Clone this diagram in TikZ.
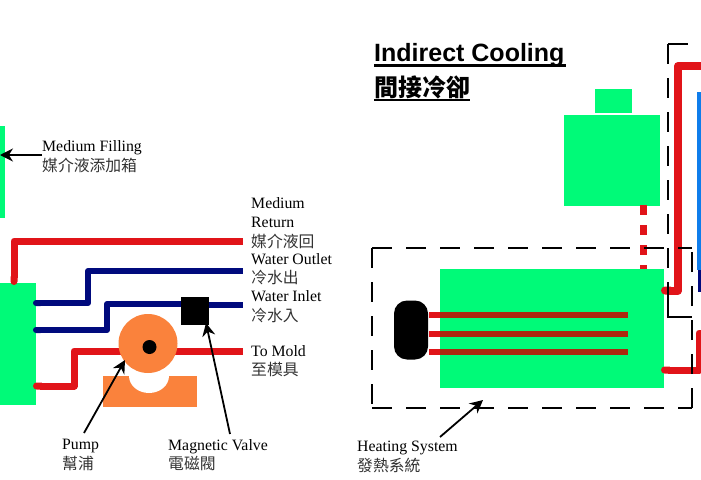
\documentclass[tikz,border=0pt]{standalone}
\usepackage{fontspec}
\setmainfont{Liberation Serif}
\setsansfont{Liberation Sans}
\newfontfamily\cjk{Noto Sans CJK TC}
\usetikzlibrary{positioning,arrows.meta}
\definecolor{tankgreen}{RGB}{0,250,120}
\definecolor{pipered}{RGB}{225,20,25}
\definecolor{pipeblue}{RGB}{0,10,125}
\definecolor{pumporange}{RGB}{250,130,60}
\definecolor{rodbrown}{RGB}{170,40,15}
\definecolor{moldblue}{RGB}{15,125,235}
\newcommand{\cn}[1]{{\cjk\color{black!80}#1}}
\tikzset{
  tank/.style={fill=tankgreen, draw=none, inner sep=0pt},
  redpipe/.style={draw=pipered, line width=7pt, line join=round, {Round Cap[]}-},
  bluepipe/.style={draw=pipeblue, line width=6pt, line join=round, {Round Cap[]}-},
  rod/.style={draw=rodbrown, line width=5.5pt},
  lbl/.style={inner sep=0pt, align=left, anchor=north west, font=\fontsize{15.8}{19.5}\selectfont},
  pointer/.style={draw=black, line width=1.8pt, -{Stealth[length=13pt,width=13pt]}},
  boxline/.style={draw=black, line width=1.2pt, dash pattern=on 20pt off 14pt}
}
\begin{document}
\begin{tikzpicture}[x=1pt,y=-1pt]
\useasboundingbox (0,0) rectangle (701,479);
% left part
\node[tank, minimum width=5pt, minimum height=92pt, anchor=north west](fill) at (0,126) {};
\node[tank, minimum width=36pt, minimum height=122pt, anchor=north west](res) at (0,283) {};
\coordinate (retA) at (14,285);
\coordinate (retB) at (243,241);
\draw[redpipe] (retA) |- (retB);
\coordinate (outA) at (33,303);
\coordinate (outB) at (243,271);
\draw[bluepipe] (outA) -- (88,303) -- (88,271) -- (outB);
\coordinate (inA) at (33,330);
\node[fill=black, minimum size=28pt, inner sep=0pt](valve) at (195,311) {};
\coordinate (inB) at (243,305);
\draw[bluepipe] (inA) -- (107,330) -- (107,304) -- (valve.west |- 0,304);
\draw[draw=pipeblue, line width=6pt] (valve.east |- inB) -- (inB);
\coordinate (moldA) at (33,386);
\coordinate (moldB) at (243,351);
\draw[redpipe] (moldA) -- (74,386) -- (74,351) -- (moldB);
\fill[pumporange] (103,376) rectangle (197,407);
\fill[white] (129,376) arc[start angle=180, end angle=360, x radius=20pt, y radius=17pt] -- cycle;
\node[circle, fill=pumporange, minimum size=59pt, inner sep=0pt](pump) at (148,343.5) {};
\node[circle, fill=black, minimum size=14pt, inner sep=0pt](shaft) at (149.5,347) {};
\node[lbl](fillText) at (42,140.5) {Medium Filling\\\cn{媒介液添加箱}};
\node[lbl](retText) at (251,197) {Medium\\Return\\\cn{媒介液回}};
\node[lbl](outText) at (251,253) {Water Outlet\\\cn{冷水出}};
\node[lbl](inText) at (251,290.5) {Water Inlet\\\cn{冷水入}};
\node[lbl](moldText) at (251,345) {To Mold\\\cn{至模具}};
\node[lbl](pumpText) at (62,439) {Pump\\\cn{幫浦}};
\node[lbl](valveText) at (168,439) {Magnetic Valve\\\cn{電磁閥}};
\coordinate (fillTip) at (0,155);
\draw[pointer] (42,155) -- (fillTip);
\coordinate (pumpFrom) at (84,433);
\coordinate (pumpTip) at (125,360);
\draw[pointer] (pumpFrom) -- (pumpTip);
\coordinate (valveFrom) at (230,434);
\coordinate (valveTip) at (206,323);
\draw[pointer] (valveFrom) -- (valveTip);
% right part
\node[inner sep=0pt, anchor=base west, font=\sffamily\bfseries\fontsize{25}{28}\selectfont](title) at (374,61) {Indirect Cooling};
\node[inner sep=0pt, anchor=base west, font=\cjk\bfseries\fontsize{24}{28}\selectfont](titleCjk) at (374,96) {間接冷卻};
\draw[line width=2.5pt] (title.west |- 0,65.5) -- (566,65.5);
\draw[line width=1.5pt] (titleCjk.west |- 0,100) -- (470,100);
\node[tank, minimum width=96pt, minimum height=91pt, anchor=north west](tankB) at (564,115) {};
\node[tank, minimum width=37pt, minimum height=24pt, anchor=north west](tankCap) at (595,89) {};
\node[tank, minimum width=224pt, minimum height=119pt, anchor=north west](heater) at (440,269) {};
\draw[draw=pipered, line width=7pt, dash pattern=on 10pt off 10pt] (643,205) -- (643,269);
\foreach \y/\n in {315/a,334/b,352/c}{
  \coordinate (rodL\n) at (429,\y);
  \coordinate (rodR\n) at (628,\y);
  \draw[rod] (rodL\n) -- (rodR\n);
  \draw[rod, draw=pipered] (rodL\n) -- (440,\y);
}
\node[fill=black, rounded corners=13pt, minimum width=34pt, minimum height=59pt, inner sep=0pt](burner) at (411,330) {};
\fill[moldblue] (697,92) rectangle (701,270);
\fill[pipeblue] (698,270) rectangle (701,292);
\coordinate (hotA) at (661,290.5);
\draw[redpipe, line width=8pt] (hotA) -- (678,290.5) -- (678,66) -- (701,66);
\coordinate (hotB) at (661,370);
\draw[redpipe] (hotB) -- (699,370) -- (699,333) -- (701,333);
\draw[boxline] (372,248) -- (692,248) (372,248) -- (372,408) (372,408) -- (692,408) (692,408) -- (692,248);
\draw[boxline] (668,44) -- (668,317) (668,44) -- (701,44);
\draw[draw=black, line width=1.2pt] (668,300) -- (668,317) -- (692,317);
\node[lbl](heatText) at (357,441) {Heating System\\\cn{發熱系統}};
\coordinate (heatFrom) at (440,437);
\coordinate (heatTip) at (483,400);
\draw[pointer] (heatFrom) -- (heatTip);
\end{tikzpicture}
\end{document}
